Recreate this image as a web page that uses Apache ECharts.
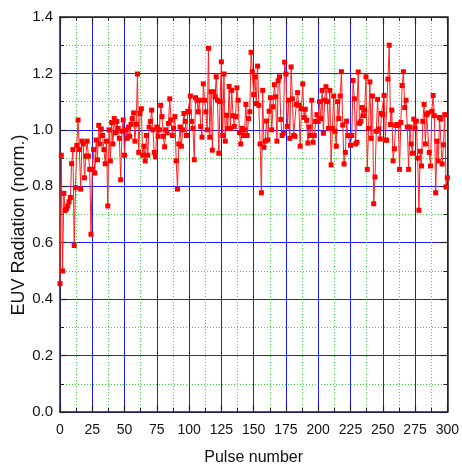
<!DOCTYPE html>
<html>
<head>
<meta charset="utf-8">
<script src="https://cdn.jsdelivr.net/npm/echarts@6/dist/echarts.min.js"></script>
<style>
  html, body { margin: 0; padding: 0; background: #fff; }
  #chart { width: 462px; height: 471px; }
</style>
</head>
<body>
<div id="chart"></div>
<script>
// pulses 0-99
const euvA = [
  0.455, 0.91, 0.50, 0.775, 0.714, 0.72, 0.73, 0.745, 0.76, 0.88,
  0.93, 0.59, 0.795, 0.945, 1.035, 0.93, 0.79, 0.96, 0.95, 0.83,
  0.907, 0.96, 0.907, 0.86, 0.63, 0.86, 0.93, 0.847, 0.964, 0.894,
  1.016, 0.95, 1.003, 0.98, 0.93, 0.88, 0.96, 0.73, 1.0, 0.89,
  1.026, 0.95, 1.04, 0.99, 1.03, 1.005, 0.97, 0.823, 0.995, 1.035,
  0.91, 1.0, 0.97, 1.01, 0.977, 1.02, 1.04, 1.06, 0.96, 1.02,
  1.198, 0.92, 1.058, 1.075, 0.91, 0.942, 0.89, 0.98, 0.91, 1.01,
  1.03, 1.07, 1.0, 0.92, 0.904, 1.01, 0.977, 1.0, 1.087, 1.047,
  0.977, 0.94, 1.0, 0.99, 1.023, 1.11, 1.035, 0.98, 1.005, 1.047,
  0.89, 0.79, 0.95, 1.01, 0.942, 1.0, 1.058, 1.03, 0.98, 1.065
];
// pulses 100-199
const euvB = [
  1.064, 1.12, 1.03, 1.005, 0.894, 1.114, 1.105, 1.064, 1.105, 1.012,
  0.974, 1.163, 1.105, 1.064, 1.0, 1.289, 0.974, 1.135, 0.928, 1.135,
  1.117, 1.188, 1.105, 0.917, 1.1, 1.241, 0.98, 1.198, 0.96, 1.052,
  1.005, 1.154, 1.005, 1.14, 1.05, 1.012, 1.047, 1.149, 1.105, 0.99,
  0.95, 1.005, 0.98, 1.0, 1.09, 0.98, 1.04, 1.064, 1.275, 1.206,
  1.125, 1.188, 1.093, 1.226, 1.087, 0.95, 0.777, 1.14, 0.938, 0.96,
  1.031, 0.964, 1.066, 1.114, 1.0, 1.082, 1.16, 1.117, 0.96, 1.174,
  1.188, 1.037, 0.98, 0.988, 1.24, 1.198, 1.012, 1.105, 0.97, 1.223,
  1.11, 0.98, 0.977, 1.09, 1.132, 1.087, 0.942, 1.075, 1.163, 1.044,
  1.073, 1.034, 0.953, 1.01, 0.98, 1.105, 0.956, 0.98, 1.03, 1.054
];
// pulses 200-300
const euvC = [
  1.03, 1.1, 1.04, 1.14, 0.988, 1.105, 1.153, 1.1, 1.005, 1.14,
  0.876, 1.005, 1.12, 0.995, 0.942, 1.1, 1.04, 1.12, 1.206, 1.017,
  0.879, 0.92, 1.031, 0.98, 0.98, 0.945, 0.98, 1.175, 1.11, 0.95,
  0.956, 1.205, 1.023, 1.03, 1.079, 1.05, 1.07, 1.188, 0.86, 1.005,
  1.17, 0.97, 1.12, 0.738, 0.833, 0.995, 1.108, 1.003, 0.968, 1.058,
  1.054, 1.122, 0.964, 0.963, 1.18, 1.3, 1.019, 1.07, 0.89, 0.933,
  1.016, 1.019, 1.016, 0.86, 1.026, 1.157, 1.206, 1.079, 1.105, 1.01,
  0.86, 1.01, 0.95, 0.917, 1.038, 1.005, 1.031, 0.9, 0.715, 0.924,
  0.872, 1.03, 1.09, 0.95, 1.054, 1.06, 0.92, 0.872, 1.066, 1.122,
  1.05, 0.777, 0.96, 0.89, 1.044, 1.038, 0.879, 0.947, 1.054, 0.798,
  0.83
];
const xTicks = [0, 300, 25];
const yTicks = [0, 1.4, 0.2];

const euv = euvA.concat(euvB, euvC);
const points = euv.map((v, i) => [i, v]);

const chart = echarts.init(document.getElementById("chart"));
const font = "'Liberation Sans', Arial, sans-serif";

// fresh style objects for every axis
function axisParts(withGrid) {
    return {
        axisLine: { show: true, onZero: false, lineStyle: { color: "#222", width: 1.5 } },
        axisTick: { show: true, inside: true, length: 7, lineStyle: { color: "#222", width: 1.2 } },
        minorTick: { show: true, splitNumber: 2, length: 4, lineStyle: { color: "#222", width: 1 } },
        splitLine: withGrid
            ? { show: true, lineStyle: { color: "#1a1aff", width: 1 } }
            : { show: false },
        minorSplitLine: withGrid
            ? { show: true, lineStyle: { color: "#33e033", width: 1, type: [1, 2] } }
            : { show: false },
    };
}

const option = {
    animation: false,
    grid: { left: 60, right: 12, top: 17, bottom: 55 },
    xAxis: [
        Object.assign({
            type: "value",
            min: xTicks[0],
            max: xTicks[1],
            interval: xTicks[2],
            name: "Pulse number",
            nameLocation: "middle",
            nameGap: 38,
            nameTextStyle: { fontFamily: font, fontSize: 16, color: "#111" },
            axisLabel: { margin: 11, fontFamily: font, fontSize: 14, color: "#111" },
        }, axisParts(true)),
        Object.assign({
            type: "value",
            position: "top",
            min: xTicks[0],
            max: xTicks[1],
            interval: xTicks[2],
            axisLabel: { show: false },
        }, axisParts(false)),
    ],
    yAxis: [
        Object.assign({
            type: "value",
            min: yTicks[0],
            max: yTicks[1],
            interval: yTicks[2],
            axisLabel: {
                margin: 7,
                fontFamily: font,
                fontSize: 15,
                color: "#111",
                formatter: (v) => v.toFixed(1),
            },
        }, axisParts(true)),
        Object.assign({
            type: "value",
            position: "right",
            min: yTicks[0],
            max: yTicks[1],
            interval: yTicks[2],
            axisLabel: { show: false },
        }, axisParts(false)),
    ],
    graphic: [
        {
            type: "text",
            x: 19,
            y: 225,
            rotation: Math.PI / 2,
            style: {
                text: "EUV Radiation (norm.)",
                fontFamily: font,
                fontSize: 18,
                fill: "#111",
                align: "center",
                verticalAlign: "middle",
            },
        },
    ],
    series: [
        {
            type: "line",
            data: points,
            symbol: "rect",
            symbolSize: 5,
            showAllSymbol: true,
            lineStyle: { color: "#ff2020", width: 1 },
            itemStyle: { color: "#ff0000" },
        },
    ],
};
option && chart.setOption(option);
</script>
</body>
</html>
